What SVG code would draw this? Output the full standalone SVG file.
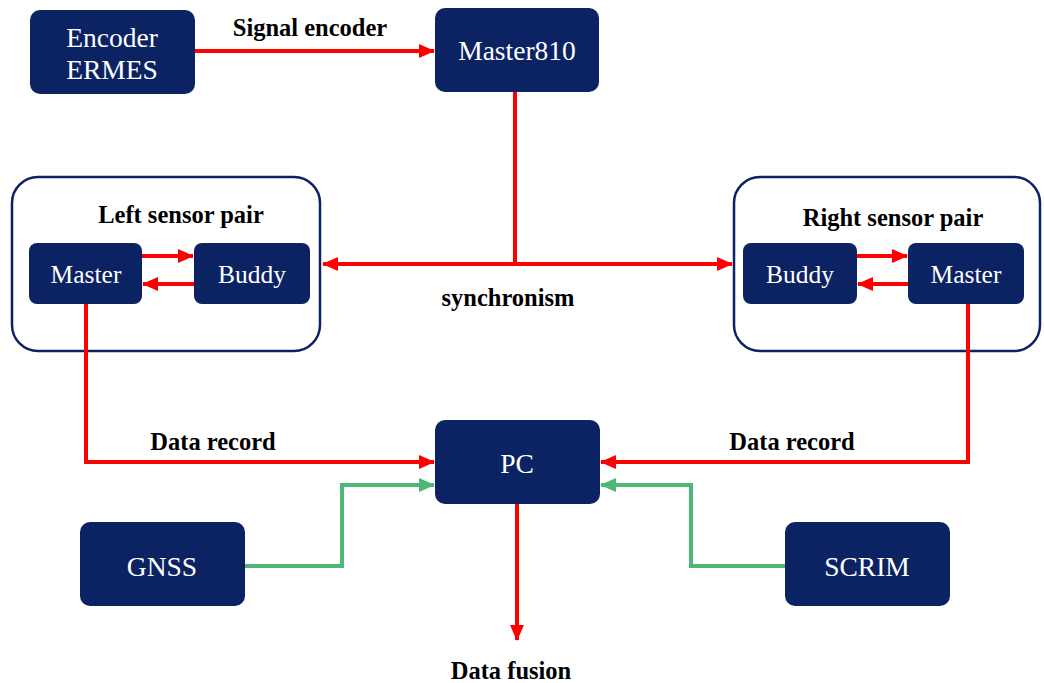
<svg xmlns="http://www.w3.org/2000/svg" width="1044" height="683" viewBox="0 0 1044 683">
<defs>
<style>
.box{fill:#0b2362;}
.grp{fill:#fff;stroke:#0b2362;stroke-width:2.5;}
.t{font-family:"Liberation Serif","Times New Roman",serif;fill:#fff;text-anchor:middle;dominant-baseline:central;}
.lbl{font-family:"Liberation Serif","Times New Roman",serif;font-weight:bold;fill:#000;text-anchor:middle;dominant-baseline:central;font-size:24.5px;}
.red{fill:none;stroke:#ff0000;stroke-width:4;}
.grn{fill:none;stroke:#4cb878;stroke-width:4;}
</style>
<marker id="ar" markerUnits="userSpaceOnUse" markerWidth="16" markerHeight="16" viewBox="0 0 16 16" refX="15" refY="8" orient="auto"><path d="M0,1 L16,8 L0,15 Z" fill="#ff0000"/></marker>
<marker id="ag" markerUnits="userSpaceOnUse" markerWidth="16" markerHeight="16" viewBox="0 0 16 16" refX="15" refY="8" orient="auto"><path d="M0,1 L16,8 L0,15 Z" fill="#4cb878"/></marker>
</defs>
<rect width="1044" height="683" fill="#fff"/>
<g id="left-pair"><rect class="grp" x="12" y="177" width="308" height="174" rx="26"/><text class="lbl" x="181" y="214">Left sensor pair</text></g>
<g id="right-pair"><rect class="grp" x="734" y="177" width="306" height="174" rx="26"/><text class="lbl" x="893" y="217">Right sensor pair</text></g>
<g id="connectors">
<line class="red" x1="195" y1="51" x2="434" y2="51" marker-end="url(#ar)"/>
<polyline class="red" points="515,92 515,264 323,264" marker-end="url(#ar)"/>
<polyline class="red" points="515,264 732,264" marker-end="url(#ar)"/>
<line class="red" x1="142" y1="256" x2="193" y2="256" marker-end="url(#ar)"/>
<line class="red" x1="194" y1="284" x2="143" y2="284" marker-end="url(#ar)"/>
<line class="red" x1="857" y1="256" x2="907" y2="256" marker-end="url(#ar)"/>
<line class="red" x1="908" y1="284" x2="858" y2="284" marker-end="url(#ar)"/>
<polyline class="red" points="86,304 86,462 434,462" marker-end="url(#ar)"/>
<polyline class="red" points="968,304 968,462 601,462" marker-end="url(#ar)"/>
<polyline class="grn" points="245,566 342,566 342,485 434,485" marker-end="url(#ag)"/>
<polyline class="grn" points="785,566 691,566 691,485 601,485" marker-end="url(#ag)"/>
<line class="red" x1="517" y1="504" x2="517" y2="640" marker-end="url(#ar)"/>
<text class="lbl" x="310" y="27">Signal encoder</text>
<text class="lbl" x="508" y="297">synchronism</text>
<text class="lbl" x="213" y="441">Data record</text>
<text class="lbl" x="792" y="441">Data record</text>
<text class="lbl" x="511" y="670">Data fusion</text>
</g>
<g id="encoder"><rect class="box" x="30" y="10" width="165" height="84" rx="10"/><text class="t" x="112" y="37" font-size="27.5">Encoder</text><text class="t" x="112" y="69" font-size="27.5">ERMES</text></g>
<g id="master810"><rect class="box" x="435" y="8" width="164" height="84" rx="10"/><text class="t" x="517" y="50" font-size="27.5">Master810</text></g>
<g id="left-master"><rect class="box" x="29" y="243" width="113" height="61" rx="8"/><text class="t" x="86" y="274" font-size="25.5">Master</text></g>
<g id="left-buddy"><rect class="box" x="194" y="243" width="116" height="61" rx="8"/><text class="t" x="252" y="274" font-size="25.5">Buddy</text></g>
<g id="right-buddy"><rect class="box" x="743" y="243" width="114" height="61" rx="8"/><text class="t" x="800" y="274" font-size="25.5">Buddy</text></g>
<g id="right-master"><rect class="box" x="908" y="243" width="116" height="61" rx="8"/><text class="t" x="966" y="274" font-size="25.5">Master</text></g>
<g id="pc"><rect class="box" x="435" y="420" width="165" height="84" rx="10"/><text class="t" x="517" y="463" font-size="27.5">PC</text></g>
<g id="gnss"><rect class="box" x="80" y="522" width="165" height="84" rx="10"/><text class="t" x="162" y="566" font-size="27.5">GNSS</text></g>
<g id="scrim"><rect class="box" x="785" y="522" width="165" height="84" rx="10"/><text class="t" x="867" y="566" font-size="27.5">SCRIM</text></g>
</svg>
